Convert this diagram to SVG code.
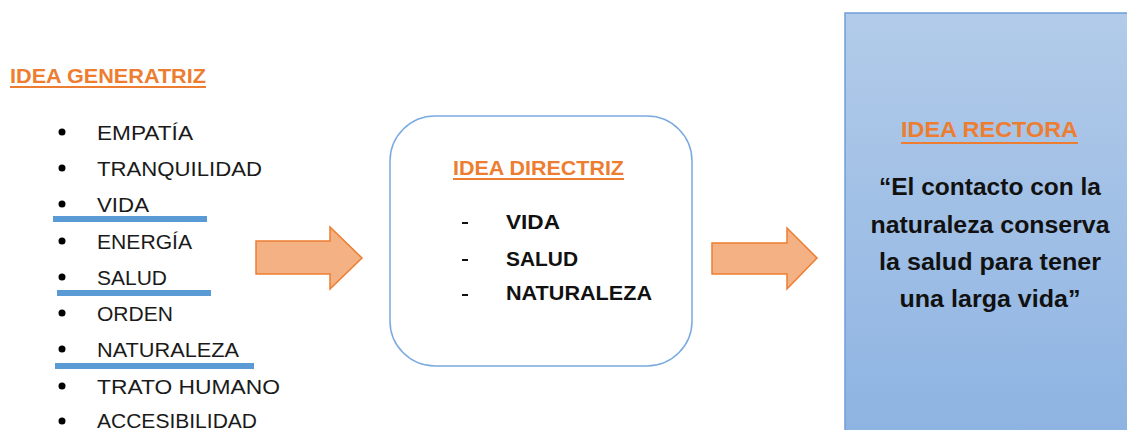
<svg xmlns="http://www.w3.org/2000/svg" width="1127" height="430" viewBox="0 0 1127 430">
<style>
.t{font-family:"Liberation Sans",Arial,sans-serif;}
.title{font-weight:bold;font-size:20px;fill:#ED7D31;}
.item{font-size:20px;fill:#1a1a1a;}
.bold{font-weight:bold;font-size:20px;fill:#111;}
.quote{font-weight:bold;font-size:23px;fill:#111;text-anchor:middle;}
.ul{fill:#ED7D31;}
.hl{fill:#5B9BD5;}
.arrow{fill:#F4B183;stroke:#ED7D31;stroke-width:1.5;}
</style>
<defs>
<linearGradient id="g" x1="0" y1="0" x2="0" y2="1">
<stop offset="0" stop-color="#B2CBE9"/>
<stop offset="1" stop-color="#8DB3E2"/>
</linearGradient>
</defs>
<rect width="1127" height="430" fill="#fff"/>

<g id="generatriz" class="t">
<text class="title" x="10" y="83" textLength="196" lengthAdjust="spacingAndGlyphs">IDEA GENERATRIZ</text>
<rect class="ul" x="10" y="86" width="196" height="2"/>
<g fill="#000">
<circle cx="62" cy="132" r="3.5"/><circle cx="62" cy="168" r="3.5"/><circle cx="62" cy="204" r="3.5"/>
<circle cx="62" cy="241" r="3.5"/><circle cx="62" cy="277" r="3.5"/><circle cx="62" cy="313" r="3.5"/>
<circle cx="62" cy="349" r="3.5"/><circle cx="62" cy="386" r="3.5"/><circle cx="62" cy="421" r="3.5"/>
</g>
<text class="item" x="97" y="140" textLength="96" lengthAdjust="spacingAndGlyphs">EMPATÍA</text>
<text class="item" x="97" y="176" textLength="165" lengthAdjust="spacingAndGlyphs">TRANQUILIDAD</text>
<text class="item" x="97" y="212" textLength="52" lengthAdjust="spacingAndGlyphs">VIDA</text>
<text class="item" x="97" y="249" textLength="95" lengthAdjust="spacingAndGlyphs">ENERGÍA</text>
<text class="item" x="97" y="285" textLength="70" lengthAdjust="spacingAndGlyphs">SALUD</text>
<text class="item" x="97" y="321" textLength="76" lengthAdjust="spacingAndGlyphs">ORDEN</text>
<text class="item" x="97" y="357" textLength="142" lengthAdjust="spacingAndGlyphs">NATURALEZA</text>
<text class="item" x="97" y="394" textLength="183" lengthAdjust="spacingAndGlyphs">TRATO HUMANO</text>
<text class="item" x="97" y="428" textLength="160" lengthAdjust="spacingAndGlyphs">ACCESIBILIDAD</text>
<rect class="hl" x="53" y="216" width="154" height="6"/>
<rect class="hl" x="57" y="290" width="154" height="6"/>
<rect class="hl" x="55" y="363" width="199" height="6"/>
</g>

<g id="connectors">
<path class="arrow" d="M256,241 L330,241 L330,227 L362,258 L330,289 L330,274 L256,274 Z"/>
<path class="arrow" d="M712,243 L787,243 L787,228 L817,258 L787,289 L787,274 L712,274 Z"/>
</g>

<g id="directriz" class="t">
<rect x="390" y="116" width="302" height="250" rx="45" ry="45" fill="#fff" stroke="#7AAAE0" stroke-width="1.5"/>
<text class="title" x="453" y="175" textLength="171" lengthAdjust="spacingAndGlyphs">IDEA DIRECTRIZ</text>
<rect class="ul" x="453" y="178" width="171" height="2"/>
<g fill="#111">
<rect x="462" y="222" width="6" height="2"/>
<rect x="462" y="259" width="6" height="2"/>
<rect x="462" y="294" width="6" height="2"/>
</g>
<text class="bold" x="506" y="229" textLength="54" lengthAdjust="spacingAndGlyphs">VIDA</text>
<text class="bold" x="506" y="266" textLength="72" lengthAdjust="spacingAndGlyphs">SALUD</text>
<text class="bold" x="506" y="300" textLength="146" lengthAdjust="spacingAndGlyphs">NATURALEZA</text>
</g>

<g id="rectora" class="t">
<rect x="845" y="13" width="290" height="430" fill="url(#g)" stroke="#6F9FD8" stroke-width="1.5"/>
<text class="title" x="901" y="137" style="font-size:22px" textLength="177" lengthAdjust="spacingAndGlyphs">IDEA RECTORA</text>
<rect class="ul" x="901" y="142" width="177" height="2"/>
<text class="quote" x="990" y="195" textLength="222" lengthAdjust="spacingAndGlyphs">“El contacto con la</text>
<text class="quote" x="990" y="233" textLength="239" lengthAdjust="spacingAndGlyphs">naturaleza conserva</text>
<text class="quote" x="990" y="270" textLength="222" lengthAdjust="spacingAndGlyphs">la salud para tener</text>
<text class="quote" x="990" y="307" textLength="181" lengthAdjust="spacingAndGlyphs">una larga vida”</text>
</g>
</svg>
